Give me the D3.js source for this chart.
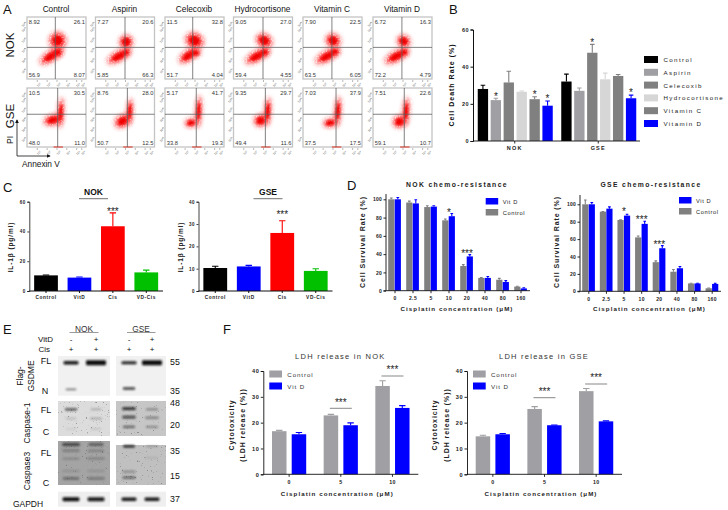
<!DOCTYPE html>
<html>
<head>
<meta charset="utf-8">
<script src="https://cdn.jsdelivr.net/npm/d3@7"></script>
<style>
  html, body { margin: 0; padding: 0; background: #fff; }
  svg { display: block; font-family: "Liberation Sans", Arial, sans-serif; }
  .bold { font-weight: bold; }
  .domain { stroke: #111; }
</style>
</head>
<body>
<div id="chart"></div>
<script>
// ---- panel A: flow cytometry
const treatments = ['Control', 'Aspirin', 'Celecoxib', 'Hydrocortisone', 'Vitamin C', 'Vitamin D'];
const flowNok = [
  ['8.92', '26.1', '56.9', '8.07'], ['7.27', '20.6', '5.85', '66.3'], ['11.5', '32.8', '51.7', '4.04'],
  ['9.05', '27.0', '59.4', '4.55'], ['7.90', '22.5', '63.5', '6.05'], ['6.72', '16.3', '72.2', '4.79']
];
const flowGse = [
  ['10.5', '30.5', '48.0', '11.0'], ['8.76', '28.0', '50.7', '12.5'], ['5.17', '41.7', '33.8', '19.3'],
  ['9.35', '29.7', '49.4', '11.6'], ['7.03', '37.9', '37.5', '17.5'], ['7.51', '22.6', '59.1', '10.7']
];
const gateNok = [48, 50, 47, 50, 49, 49];
const gateGse = [52, 54, 53, 54, 56, 53];
// cell clusters, axis units: x, y, spreadX, spreadY, tilt
const upperNok = [[52, 62, 10, 10, 35], [52, 60, 8, 8, 30], [50, 62, 11, 9, 25], [52, 62, 10, 8, 30], [51, 62, 9, 8, 30], [52, 61, 8, 7, 30]];
const lowerNok = [[41, 37, 15, 6, -32], [40, 37, 15, 6, -28], [40, 38, 13, 6, -35], [40, 37, 15, 6, -28], [41, 37, 15, 6, -28], [40, 37, 15, 6, -28]];
const sideNok = [[52, 43, 6, 5, 0], [52, 43, 4, 4, 0], [52, 42, 6, 4, 0], [53, 43, 6, 4, 0], [54, 44, 6, 4, 0], [53, 43, 5, 4, 0]];
const upperGse = [[57, 58, 3.5, 17, 4], [58, 60, 3.5, 15, 4], [57, 60, 3.5, 18, 3], [58, 60, 3.8, 16, 4], [59, 60, 3.8, 17, 4], [56, 60, 3.8, 16, 4]];
const lowerGse = [[44, 46, 11, 6, -15], [46, 44, 10, 7, -30], [44, 41, 7, 5, -10], [46, 45, 8, 7, -20], [46, 41, 8, 5, -10], [45, 43, 8, 7, -20]];

// ---- panel B
const deathGroups = ['NOK', 'GSE'];
const deathNok = [28, 22, 31.5, 26.5, 22.5, 19];
const deathNokErr = [2, 1, 6, 0.4, 1.3, 2.5];
const deathGse = [32, 27, 47.5, 33.2, 35, 23];
const deathGseErr = [4, 1.5, 4.5, 3.3, 0.8, 1.7];
const deathColors = ['#000000', '#a0a0a4', '#808080', '#d6d6d6', '#808080', '#0000ff'];

// ---- panel C
const ilLabels = ['Control', 'VitD', 'Cis', 'VD-Cis'];
const ilColors = ['#000000', '#0000ff', '#ff0000', '#00c000'];
const ilNok = [10.5, 9, 43.5, 12.5];
const ilNokErr = [0.3, 0.4, 9, 1.5];
const ilGse = [10.3, 11, 26, 9];
const ilGseErr = [0.8, 0.5, 5.5, 1];

// ---- panel D
const doses = ['0', '2.5', '5', '10', '20', '40', '80', '160'];
const nokSurvivalControl = [100, 96.5, 91.5, 77, 27, 14, 12, 4.5];
const nokSurvivalControlErr = [1.5, 1.5, 1.5, 1.5, 1.5, 0.4, 1.5, 0.3];
const nokSurvivalVitD = [100, 95.5, 92, 81.5, 37.5, 14, 9.5, 2.5];
const nokSurvivalVitDErr = [2, 4, 1, 3, 2, 1.5, 1.5, 0.7];
const gseSurvivalControl = [100, 91.5, 82, 62, 33.5, 22.5, 9, 3.5];
const gseSurvivalControlErr = [5, 0.3, 0.3, 1.5, 1.5, 2.5, 0.3, 0.3];
const gseSurvivalVitD = [100, 95, 87, 77.5, 49.5, 26.5, 9, 8.5];
const gseSurvivalVitDErr = [2, 2, 1.5, 3, 3, 2, 0.3, 0.7];

// ---- panel E: blot bands, row in percent of blot height, strength 0-1, wide 0-1
const blotLanes = [0, 1, 2, 3];
const gsdmeBands = [[0, 17, 0.95, 0.6], [1, 17, 1, 1], [2, 17, 0.9, 0.6], [3, 17, 1, 1], [0, 84, 0.5, 0.3], [2, 82, 0.8, 0.4]];
const casp1Bands = [[0, 24, 0.7, 0.4], [1, 24, 0.25, 0.3], [2, 22, 0.85, 0.5], [3, 24, 0.4, 0.4],
  [0, 50, 0.2, 0.3], [1, 50, 0.3, 0.4], [2, 46, 0.7, 0.5], [3, 48, 0.45, 0.5], [2, 74, 0.55, 0.4], [3, 74, 0.4, 0.4], [0, 80, 0.1, 0.3], [1, 80, 0.15, 0.3]];
const casp3Bands = [[0, 8, 0.65, 0.8], [1, 8, 0.55, 0.6], [0, 22, 0.3, 0.8], [1, 22, 0.28, 0.7], [0, 40, 0.22, 0.8], [1, 40, 0.25, 0.8],
  [0, 68, 0.16, 0.8], [1, 68, 0.16, 0.8], [0, 85, 0.45, 0.7], [1, 85, 0.35, 0.8], [2, 12, 0.85, 0.35], [3, 12, 0.25, 0.4], [2, 70, 0.35, 0.5], [2, 83, 0.55, 0.5], [3, 38, 0.1, 0.4]];
const gapdhBands = [[0, 50, 1, 0.75], [1, 50, 0.95, 0.75], [2, 50, 0.95, 0.6], [3, 50, 0.95, 0.6]];

// ---- panel F
const ldhDoses = ['0', '5', '10'];
const nokLdhControl = [16.7, 22.8, 34.2];
const nokLdhControlErr = [0.3, 0.4, 2];
const nokLdhVitD = [15.5, 19, 25.7];
const nokLdhVitDErr = [0.7, 0.9, 0.9];
const gseLdhControl = [14.7, 25.3, 32.2];
const gseLdhControlErr = [0.4, 0.9, 1];
const gseLdhVitD = [15.5, 19, 20.5];
const gseLdhVitDErr = [0.3, 0.1, 0.2];

const blue = '#0000ff';
const grey = '#a0a0a4';
const svg = d3.select('#chart').append('svg').attr('width', 728).attr('height', 510);

const defs = svg.append('defs');
defs.append('filter').attr('id', 'soft').attr('x', '-40%').attr('y', '-120%').attr('width', '180%').attr('height', '340%')
  .append('feGaussianBlur').attr('stdDeviation', 0.85);
defs.append('filter').attr('id', 'cloud').attr('x', '-50%').attr('y', '-50%').attr('width', '200%').attr('height', '200%')
  .append('feGaussianBlur').attr('stdDeviation', 0.9);
defs.append('filter').attr('id', 'haze').attr('x', '-60%').attr('y', '-60%').attr('width', '220%').attr('height', '220%')
  .append('feGaussianBlur').attr('stdDeviation', 2.4);
const grain = defs.append('filter').attr('id', 'grain').attr('x', '-60%').attr('y', '-60%').attr('width', '220%').attr('height', '220%');
grain.append('feGaussianBlur').attr('in', 'SourceGraphic').attr('stdDeviation', 2).attr('result', 'b');
grain.append('feTurbulence').attr('type', 'fractalNoise').attr('baseFrequency', 1.3).attr('numOctaves', 1).attr('seed', 4).attr('result', 'n');
grain.append('feColorMatrix').attr('in', 'n').attr('values', '0 0 0 0 0 0 0 0 0 0 0 0 0 0 0 0 0 0 7 -2.4').attr('result', 'dots');
grain.append('feComposite').attr('in', 'b').attr('in2', 'dots').attr('operator', 'in');
const speck = defs.append('filter').attr('id', 'speck').attr('x', 0).attr('y', 0).attr('width', '100%').attr('height', '100%');
speck.append('feTurbulence').attr('type', 'fractalNoise').attr('baseFrequency', 0.8).attr('numOctaves', 2).attr('seed', 9);
speck.append('feColorMatrix').attr('values', '0 0 0 0 0.15 0 0 0 0 0.15 0 0 0 0 0.15 0 0 0 9 -6.2');

function label(x, y, str, size, opts) {
  opts = opts || {};
  const t = svg.append('text').attr('x', x).attr('y', y).text(str)
    .attr('font-size', size).attr('fill', opts.fill || '#111')
    .attr('text-anchor', opts.anchor || 'middle');
  if (opts.bold) t.attr('font-weight', 'bold');
  if (opts.spacing) t.attr('letter-spacing', opts.spacing);
  if (opts.rotate) t.attr('transform', `rotate(-90 ${x} ${y})`);
  return t;
}

// panel letters
[['A', 3, 14], ['B', 449, 14], ['C', 3, 192], ['D', 347, 190], ['E', 3, 334], ['F', 223, 334]]
  .forEach(d => label(d[1], d[2], d[0], 13, { anchor: 'start' }));

// ---- A
const flowLefts = [27, 95.5, 165, 233.5, 303, 373];
const flowTicks = [16.6, 33.3, 50, 66.6, 83.3, 92];
const flowTickText = ['10¹', '10²', '10³', '10⁴', '10⁵', '10⁶'];

function flowPlot(left, top, height, quad, gate, gateY, clusters, isGse) {
  const width = 59;
  const x = d3.scaleLinear().domain([0, 100]).range([left, left + width]);
  const y = d3.scaleLinear().domain([0, 100]).range([top + height, top]);
  const g = svg.append('g');
  g.append('rect').attr('x', left).attr('y', top).attr('width', width).attr('height', height)
    .attr('fill', '#fff').attr('stroke', '#c4c4c4').attr('stroke-width', 1.3);

  const tickText = (d, i) => flowTickText[i];
  const ax = g.append('g').attr('transform', `translate(${left - 1},0)`)
    .call(d3.axisLeft(y).tickValues(flowTicks).tickSize(2).tickPadding(0).tickFormat(tickText));
  const bx = g.append('g').attr('transform', `translate(0,${top + height + 1})`)
    .call(d3.axisBottom(x).tickValues(flowTicks).tickSize(2).tickPadding(0.5).tickFormat(tickText));
  [ax, bx].forEach(a => {
    a.select('.domain').remove();
    a.selectAll('line').attr('stroke', '#888').attr('stroke-width', 0.6);
    a.selectAll('text').attr('font-size', 3).attr('fill', '#555');
  });
  bx.selectAll('text').attr('transform', 'rotate(-45)').attr('text-anchor', 'end').attr('dy', 3);
  ax.selectAll('text').attr('transform', 'rotate(-45)').attr('dx', 1);

  const blob = (d, grow, fill, op, flt) => g.append('ellipse')
    .attr('transform', `translate(${x(d[0])},${y(d[1])}) rotate(${d[4]})`)
    .attr('rx', d[2] * width / 100 * grow).attr('ry', d[3] * width / 100 * grow)
    .attr('fill', fill).attr('opacity', op).attr('filter', flt);
  clusters.forEach(d => {
    blob(d, 1.7, '#ff5050', 0.16, 'url(#haze)');
    blob(d, 1.45, '#ff2020', 0.8, 'url(#grain)');
    blob(d, 0.85, '#f00000', 1, 'url(#cloud)');
  });
  if (isGse) {
    g.append('line').attr('x1', x(gate - 7)).attr('x2', x(gate + 9)).attr('y1', y(0)).attr('y2', y(0))
      .attr('stroke', '#e03020').attr('stroke-width', 1);
  }
  g.append('line').attr('x1', x(gate)).attr('x2', x(gate)).attr('y1', y(0)).attr('y2', y(100))
    .attr('stroke', '#5a5a5a').attr('stroke-width', 0.9).attr('opacity', 0.85);
  g.append('line').attr('x1', x(0)).attr('x2', x(100)).attr('y1', y(gateY)).attr('y2', y(gateY))
    .attr('stroke', '#5a5a5a').attr('stroke-width', 0.9).attr('opacity', 0.85);

  const num = (a, b, s, anchor) => g.append('text').attr('x', a).attr('y', b).text(s)
    .attr('font-size', 5.7).attr('fill', '#333').attr('text-anchor', anchor);
  num(x(3), top + 7, quad[0], 'start');
  num(x(98), top + 7, quad[1], 'end');
  num(x(3), top + height - 2.5, quad[2], 'start');
  num(x(98), top + height - 2.5, quad[3], 'end');
}

treatments.forEach((name, i) => {
  label(flowLefts[i] + 29, 12, name, 8.3);
  flowPlot(flowLefts[i], 17, 62, flowNok[i], gateNok[i], 51, [lowerNok[i], sideNok[i], upperNok[i]], false);
  flowPlot(flowLefts[i], 88, 59, flowGse[i], gateGse[i], 55.5, [lowerGse[i], upperGse[i]], true);
});
label(14, 45, 'NOK', 11.5, { rotate: true });
label(14, 116, 'GSE', 11.5, { rotate: true });
label(13, 140, 'PI', 8.5, { rotate: true });
label(22, 167, 'Annexin V', 8.3, { anchor: 'start' });
defs.append('marker').attr('id', 'arrow').attr('viewBox', '0 0 6 6').attr('refX', 5).attr('refY', 3)
  .attr('markerWidth', 5).attr('markerHeight', 5).attr('orient', 'auto')
  .append('path').attr('d', 'M0,0L6,3L0,6Z').attr('fill', '#111');
[[17, 156, 17, 120], [17, 156, 50, 156]].forEach(d => {
  svg.append('line').attr('x1', d[0]).attr('y1', d[1]).attr('x2', d[2]).attr('y2', d[3])
    .attr('stroke', '#111').attr('stroke-width', 0.8).attr('marker-end', 'url(#arrow)');
});

// ---- shared bar helpers
function leftAxis(scale, left, ticks, size, opts) {
  opts = opts || {};
  const a = svg.append('g').attr('transform', `translate(${left},0)`)
    .call(d3.axisLeft(scale).tickValues(ticks).tickSize(opts.tick || 2.5).tickPadding(1.5));
  a.selectAll('.domain,line').attr('stroke', '#111').attr('stroke-width', opts.width || 0.9);
  a.selectAll('text').attr('font-size', size).attr('font-weight', 'bold').attr('fill', '#222')
    .attr('font-family', '"Liberation Sans"').attr('letter-spacing', opts.spacing || 0.5);
  return a;
}
function bottomAxis(scale, y, size, opts) {
  opts = opts || {};
  const a = svg.append('g').attr('transform', `translate(0,${y})`)
    .call(d3.axisBottom(scale).tickSize(opts.tick || 2.5).tickPadding(opts.pad || 2));
  a.selectAll('.domain,line').attr('stroke', opts.stroke || '#111').attr('stroke-width', opts.width || 0.9);
  a.select('.domain').attr('d', `M${scale.range()[0]},0H${scale.range()[1]}`);
  a.selectAll('text').attr('font-size', size).attr('font-weight', 'bold').attr('fill', '#222')
    .attr('font-family', '"Liberation Sans"').attr('letter-spacing', opts.spacing || 0.6);
  return a;
}
function bars(values, errs, colors, xAt, barWidth, y) {
  const g = svg.append('g');
  const color = i => Array.isArray(colors) ? colors[i] : colors;
  g.selectAll('.err').data(values).enter().append('path')
    .attr('d', (d, i) => {
      const c = xAt(i) + barWidth / 2;
      const top = y(d + errs[i]);
      const cap = Math.min(barWidth * 0.22, 3.2);
      return `M${c},${y(d)}V${top}M${c - cap},${top}H${c + cap}`;
    })
    .attr('fill', 'none').attr('stroke-width', 1.1).attr('stroke', (d, i) => color(i));
  g.selectAll('.bar').data(values).enter().append('rect')
    .attr('x', (d, i) => xAt(i)).attr('width', barWidth)
    .attr('y', d => y(d)).attr('height', d => y(0) - y(d))
    .attr('fill', (d, i) => color(i));
}
// y is the middle of the star glyphs
function stars(x, y, str) {
  label(x, y + 5.6, str, 10, { fill: '#222' });
}

// ---- B
const deathY = d3.scaleLinear().domain([0, 60]).range([141, 29.5]);
const deathX = d3.scaleBand().domain(deathGroups).range([473, 640]);
const deathInner = d3.scaleBand().domain(d3.range(6)).range([-37, 38]).paddingInner(0.2);
const deathCentre = g => deathX(g) + deathX.bandwidth() / 2;
bars(deathNok, deathNokErr, deathColors, i => deathCentre('NOK') + deathInner(i), deathInner.bandwidth(), deathY);
bars(deathGse, deathGseErr, deathColors, i => deathCentre('GSE') + deathInner(i), deathInner.bandwidth(), deathY);
leftAxis(deathY, 473, [0, 20, 40, 60], 5.5, { width: 1 });
bottomAxis(deathX, 141, 5.5, { spacing: 1.2, pad: 3 });
label(454, 85, 'Cell Death Rate (%)', 7, { rotate: true, bold: true, spacing: 1 });
[['NOK', 1, 94], ['NOK', 4, 92.3], ['NOK', 5, 96.7], ['GSE', 2, 40.7], ['GSE', 5, 90.7]].forEach(d => {
  stars(deathCentre(d[0]) + deathInner(d[1]) + deathInner.bandwidth() / 2, d[2], '*');
});
treatments.forEach((name, i) => {
  const ty = d3.scalePoint().domain(d3.range(6)).range([56, 120]);
  svg.append('rect').attr('x', 644).attr('y', ty(i)).attr('width', 14).attr('height', 7).attr('fill', deathColors[i]);
  label(663.5, ty(i) + 6, name, 6.2, { anchor: 'start', spacing: 1.35, fill: '#222' });
});

// ---- C
function ilPanel(title, titleX, left, right, max, ticks, values, errs, starY, labelX) {
  const y = d3.scaleLinear().domain([0, max]).range([291, 201.7]);
  const x = d3.scaleBand().domain(ilLabels).range([left, right]).paddingInner(0.29).paddingOuter(0.145);
  bars(values, errs, ilColors, i => x(ilLabels[i]), x.bandwidth(), y);
  leftAxis(y, left, ticks, 4.5, { tick: 2, width: 0.8 });
  const a = bottomAxis(x, 291, 4.8, { tick: 2, stroke: '#555', width: 1, pad: 3, spacing: 0.6 });
  a.selectAll('.tick line').attr('stroke', '#111');
  label(labelX, 247, 'IL-1β (pg/ml)', 6.5, { rotate: true, bold: true, spacing: 0.9 });
  label(titleX, 195, title, 8.5, { bold: true });
  svg.append('line').attr('x1', titleX - 14.5).attr('x2', titleX + 14.5).attr('y1', 198.7).attr('y2', 198.7)
    .attr('stroke', '#333').attr('stroke-width', 0.7);
  stars(x('Cis') + x.bandwidth() / 2, starY, '***');
}
ilPanel('NOK', 93.5, 29.3, 163, 60, [0, 20, 40, 60], ilNok, ilNokErr, 209.3, 13);
ilPanel('GSE', 268, 198.5, 332.5, 40, [0, 10, 20, 30, 40], ilGse, ilGseErr, 212, 183);

// ---- D
function survivalPanel(o) {
  const y = d3.scaleLinear().domain([0, 100]).range([o.zero, o.hundred]);
  const x = d3.scaleBand().domain(doses).range([o.left, o.right]);
  const w = 6.2;
  bars(o.control, o.controlErr, '#808080', i => x(doses[i]) + 2.2, w, y);
  bars(o.vitd, o.vitdErr, blue, i => x(doses[i]) + 2.2 + w + 0.3, w, y);
  const a = leftAxis(y, o.left, [0, 20, 40, 60, 80, 100], 5, { spacing: 0.2 });
  a.select('.domain').attr('d', `M-2.5,${o.zero}H0V${o.axisTop}`);
  bottomAxis(x, o.zero, 5, { spacing: 0.4, pad: 3.5 });
  label(o.titleX, 187, o.title, 6.8, { bold: true, spacing: 1.35, fill: '#222' });
  label((o.left + o.right) / 2 - 1, 311, 'Cisplatin concentration (μM)', 6.2, { bold: true, spacing: 1.05, fill: '#222' });
  label(o.labelX, 242, 'Cell Survival Rate (%)', 7, { bold: true, rotate: true, spacing: 0.9, fill: '#222' });
  o.stars.forEach(s => stars(x(s[0]) + x.bandwidth() / 2, s[1], s[2]));
  [['Vit D', blue, o.legendY[0]], ['Control', '#808080', o.legendY[1]]].forEach(d => {
    svg.append('rect').attr('x', o.legendX).attr('y', d[2]).attr('width', 12.5).attr('height', 6.5).attr('fill', d[1]);
    label(o.legendX + 17, d[2] + 5.5, d[0], 5.7, { anchor: 'start', spacing: 0.6, fill: '#222' });
  });
}
survivalPanel({
  left: 386, right: 530, zero: 290.7, hundred: 199.3, axisTop: 194, title: 'NOK chemo-resistance', titleX: 457,
  labelX: 365, legendX: 485.7, legendY: [198, 209],
  control: nokSurvivalControl, controlErr: nokSurvivalControlErr, vitd: nokSurvivalVitD, vitdErr: nokSurvivalVitDErr,
  stars: [['10', 210, '*'], ['20', 251, '***']]
});
survivalPanel({
  left: 580, right: 721, zero: 291.3, hundred: 204.3, axisTop: 195, title: 'GSE chemo-resistance', titleX: 651,
  labelX: 559, legendX: 679, legendY: [197, 208],
  control: gseSurvivalControl, controlErr: gseSurvivalControlErr, vitd: gseSurvivalVitD, vitdErr: gseSurvivalVitDErr,
  stars: [['5', 209.3, '*'], ['10', 217.7, '***'], ['20', 242.3, '***']]
});

// ---- E
const laneX = d3.scaleOrdinal().domain(blotLanes).range([71, 96, 129, 152]);
function blot(top, height, tintNok, tintGse, bands, speckle, gseTop) {
  const rowY = d3.scaleLinear().domain([0, 100]).range([top, top + height]);
  const g = svg.append('g');
  const gTop = gseTop || top;
  g.append('rect').attr('x', 58).attr('y', top).attr('width', 52).attr('height', height).attr('fill', tintNok);
  g.append('rect').attr('x', 116).attr('y', gTop).attr('width', 50).attr('height', height - (gTop - top)).attr('fill', tintGse);
  if (speckle) {
    g.append('rect').attr('x', 58).attr('y', top).attr('width', 52).attr('height', height).attr('filter', 'url(#speck)').attr('opacity', 0.6);
    g.append('rect').attr('x', 116).attr('y', gTop).attr('width', 50).attr('height', height - (gTop - top)).attr('filter', 'url(#speck)').attr('opacity', 0.6);
  }
  bands.forEach(b => {
    const w = 7 + b[3] * 13;
    const h = 1.3 + b[2] * b[3] * 3.6;
    g.append('rect').attr('x', laneX(b[0]) - w / 2).attr('y', rowY(b[1]) - h / 2)
      .attr('width', w).attr('height', h).attr('rx', 1.2)
      .attr('fill', '#0c0c0c').attr('opacity', b[2]).attr('filter', 'url(#soft)');
  });
}
blot(356, 39.7, '#f1f1f1', '#f1f1f1', gsdmeBands, false);
blot(401, 35, '#dcdcdc', '#c6c6c6', casp1Bands, true);
blot(441, 44, '#a4a4a4', '#c0c0c0', casp3Bands, true, 445);
blot(491.7, 15, '#efefef', '#efefef', gapdhBands, false);

label(84, 332, 'NOK', 8.3, { fill: '#333' });
label(141, 332, 'GSE', 8.3, { fill: '#333' });
[[69.5, 98.5], [127, 155.5]].forEach(d => {
  svg.append('line').attr('x1', d[0]).attr('x2', d[1]).attr('y1', 332.5).attr('y2', 332.5).attr('stroke', '#555').attr('stroke-width', 0.6);
});
label(53, 341.5, 'VitD', 8, { anchor: 'end' });
label(50, 351.5, 'Cis', 8, { anchor: 'end' });
blotLanes.forEach(l => {
  label(laneX(l), 341.5, l % 2 ? '+' : '-', 8);
  label(laneX(l), 351.5, '+', 8);
});
[['FL', 46, 364], ['N', 45, 394], ['FL', 46, 413], ['C', 46, 435], ['FL', 46, 456], ['C', 46, 486]]
  .forEach(d => label(d[1], d[2], d[0], 9));
label(23, 376, 'Flag-', 8.5, { rotate: true });
label(34, 376, 'GSDME', 8.5, { rotate: true });
label(30, 423, 'Caspase-1', 8.5, { rotate: true });
label(30, 471, 'Caspase3', 8.5, { rotate: true });
label(28, 507, 'GAPDH', 8.5);
[['55', 365], ['35', 394], ['48', 406], ['20', 427.5], ['35', 453.5], ['15', 479], ['37', 501.5]]
  .forEach(d => label(170, d[1], d[0], 8.8, { anchor: 'start' }));

// ---- F
function ldhPanel(o) {
  const y = d3.scaleLinear().domain([0, 40]).range([474.3, 371]);
  const x = d3.scaleBand().domain(ldhDoses).range([o.left, o.left + 155]);
  const w = 14.5;
  bars(o.control, o.controlErr, grey, i => x(ldhDoses[i]) + 25.8 - w - 2.6, w, y);
  bars(o.vitd, o.vitdErr, blue, i => x(ldhDoses[i]) + 25.8 + 2.6, w, y);
  leftAxis(y, o.left, [0, 10, 20, 30, 40], 5.6);
  bottomAxis(x, 474.3, 5.3, { spacing: 0.3, pad: 3.5 });
  label(o.left + 77, 359, o.title, 7.5, { fill: '#333', spacing: 1.25 });
  label(o.left + 74, 496, 'Cisplatin concentration (μM)', 6.2, { bold: true, spacing: 1.05, fill: '#222' });
  label(o.label1, 425, 'Cytotoxicity', 7, { bold: true, rotate: true, spacing: 0.9, fill: '#222' });
  label(o.label2, 425, '(LDH release (%))', 7, { bold: true, rotate: true, spacing: 0.9, fill: '#222' });
  o.sig.forEach(s => {
    const c = x(s[0]) + x.bandwidth() / 2;
    svg.append('line').attr('x1', c - 11).attr('x2', c + 11).attr('y1', s[1]).attr('y2', s[1]).attr('stroke', '#555').attr('stroke-width', 0.7);
    stars(c, s[1] - 8.3, '***');
  });
  [['Control', grey, 370.5], ['Vit D', blue, 382.5]].forEach(d => {
    svg.append('rect').attr('x', o.left + 6).attr('y', d[2]).attr('width', 12.7).attr('height', 7).attr('fill', d[1]);
    label(o.left + 24, d[2] + 6, d[0], 6.2, { anchor: 'start', spacing: 0.9, fill: '#333' });
  });
}
ldhPanel({
  left: 263.3, title: 'LDH release in NOK', label1: 234, label2: 245,
  control: nokLdhControl, controlErr: nokLdhControlErr, vitd: nokLdhVitD, vitdErr: nokLdhVitDErr,
  sig: [['5', 408.3], ['10', 376]]
});
ldhPanel({
  left: 467, title: 'LDH release in GSE', label1: 437, label2: 449,
  control: gseLdhControl, controlErr: gseLdhControlErr, vitd: gseLdhVitD, vitdErr: gseLdhVitDErr,
  sig: [['5', 397.7], ['10', 384]]
});
</script>
</body>
</html>
